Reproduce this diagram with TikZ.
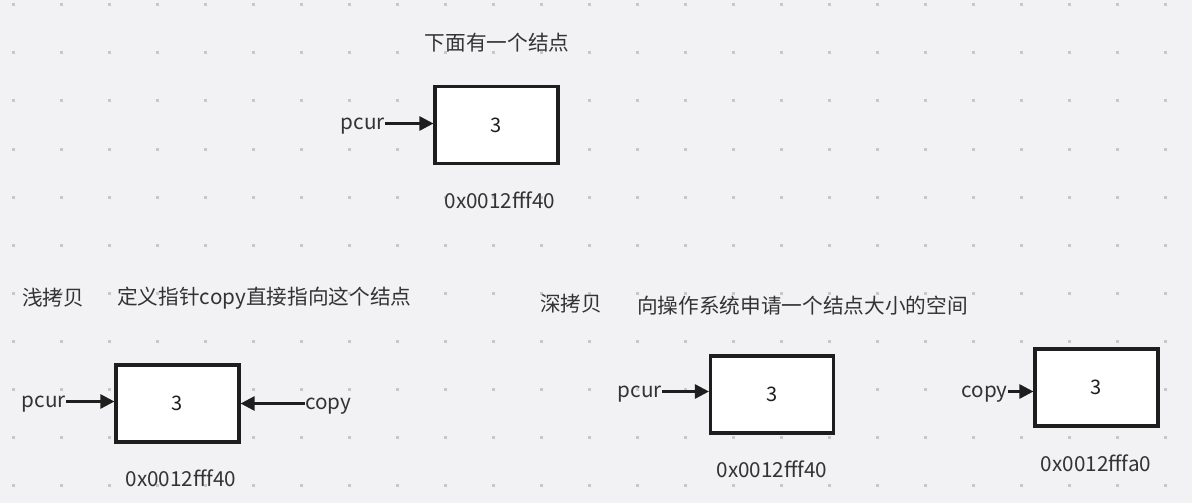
\documentclass[tikz,border=0pt]{standalone}
\usepackage{fontspec}
\setmainfont{Noto Sans CJK SC}
\usetikzlibrary{arrows.meta}
\definecolor{bg}{HTML}{F2F2F4}
\definecolor{dotc}{HTML}{C8C8CC}
\definecolor{ink}{HTML}{1E1E1E}
\definecolor{txt}{HTML}{333333}
\tikzset{
  mem/.style={draw=ink, line width=2.6pt, fill=white, minimum width=92pt, minimum height=57.5pt, inner sep=0pt, text=ink, font=\fontsize{15}{18}\selectfont},
  lbl/.style={inner sep=0pt, text=txt, font=\fontsize{15.5}{18}\selectfont},
  ptr/.style={draw=ink, line width=2pt, -{Triangle[length=10.5pt,width=10.5pt]}}
}
\begin{document}
\begin{tikzpicture}[x=0.75pt,y=-0.75pt]
\fill[bg] (0,0) rectangle (1192,503);
\useasboundingbox (0,0) rectangle (1192,503);
\foreach \i in {0,...,24}{\foreach \j in {0,...,10}{
  \fill[dotc] ({13+48*\i-1.5},{5+48*\j-1.5}) rectangle ++(3,3);}}
% top
\node[lbl] (t1) at (497,43) {下面有一个结点};
\node[mem] (b1) at (496.5,125) {3};
\node[lbl, anchor=east] (p1) at (385,126) {pcur};
\node[lbl] (a1) at (500,200) {0x0012fff40};
\draw[ptr] (p1.east) ++(0,-2.5) coordinate (p1s) -- (b1.west |- p1s);
% shallow
\node[lbl, anchor=west] (s1) at (22,298) {浅拷贝};
\node[lbl, anchor=west] (s2) at (117,298) {定义指针copy直接指向这个结点};
\node[mem] (b2) at (177.5,403.5) {3};
\node[lbl, anchor=east] (p2) at (66,404) {pcur};
\node[lbl, anchor=west] (c2) at (305,406) {copy};
\node[lbl] (a2) at (181,478) {0x0012fff40};
\draw[ptr] (p2.east) ++(0,-2.5) coordinate (p2s) -- (b2.west |- p2s);
\draw[ptr] (c2.west) ++(0,-2.5) coordinate (c2s) -- (b2.east |- c2s);
% deep
\node[lbl, anchor=west] (d1) at (540,304) {深拷贝};
\node[lbl, anchor=west] (d2) at (637,306) {向操作系统申请一个结点大小的空间};
\node[mem] (b3) at (772,394.5) {3};
\node[lbl, anchor=east] (p3) at (662,394) {pcur};
\node[lbl] (a3) at (772,469) {0x0012fff40};
\draw[ptr] (p3.east) ++(0,-2.5) coordinate (p3s) -- (b3.west |- p3s);
\node[mem] (b4) at (1096.5,387.5) {3};
\node[lbl, anchor=east] (c4) at (1008,394) {copy};
\node[lbl] (a4) at (1096,463) {0x0012fffa0};
\draw[ptr] (c4.east) ++(0,-2.5) coordinate (c4s) -- (b4.west |- c4s);
\end{tikzpicture}
\end{document}
